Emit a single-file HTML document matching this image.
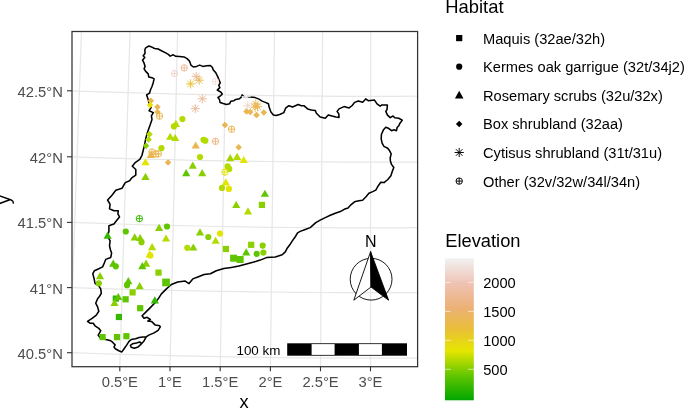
<!DOCTYPE html>
<html><head><meta charset="utf-8"><title>Habitat map</title>
<style>html,body{margin:0;padding:0;background:#fff}svg{display:block}text{font-family:"Liberation Sans",Arial,Helvetica,sans-serif}</style>
</head><body>
<svg width="685" height="408" viewBox="0 0 685 408">
<rect width="685" height="408" fill="#fff"/>
<defs><clipPath id="pc"><rect x="72.0" y="31.5" width="345.6" height="335.2"/></clipPath>
<linearGradient id="eg" x1="0" y1="1" x2="0" y2="0">
<stop offset="0%" stop-color="#00A600"/>
<stop offset="17.5%" stop-color="#63C600"/>
<stop offset="35%" stop-color="#E6E600"/>
<stop offset="50.5%" stop-color="#E9BD3A"/>
<stop offset="65%" stop-color="#ECB176"/>
<stop offset="82%" stop-color="#EFC2B3"/>
<stop offset="100%" stop-color="#F2F2F2"/>
</linearGradient></defs>
<g clip-path="url(#pc)" fill="none" stroke="#E7E7E7" stroke-width="1.25">
<path d="M69.6 366.7L81.5 31.5"/>
<path d="M119.8 366.7L130 31.5"/>
<path d="M170 366.7L177.6 31.5"/>
<path d="M220.2 366.7L226.2 31.5"/>
<path d="M270.4 366.7L274.5 31.5"/>
<path d="M320.5 366.7L322.6 31.5"/>
<path d="M370.5 366.7L370.7 31.5"/>
<path d="M70 90.7L95 91.6L120 92.4L145 93.1L170 93.8L195 94.4L220 94.9L245 95.3L270 95.7L295 95.9L320 96.1L345 96.3L370 96.3L395 96.3L420 96.1"/>
<path d="M70 156.7L95 157.6L120 158.4L145 159.1L170 159.7L195 160.3L220 160.8L245 161.2L270 161.5L295 161.8L320 161.9L345 162.1L370 162.1L395 162.1L420 162"/>
<path d="M70 222.3L95 223.2L120 224L145 224.8L170 225.4L195 226L220 226.5L245 226.9L270 227.3L295 227.5L320 227.7L345 227.9L370 227.9L395 227.9L420 227.7"/>
<path d="M70 287.5L95 288.3L120 289.1L145 289.7L170 290.3L195 290.9L220 291.3L245 291.7L270 292L295 292.3L320 292.5L345 292.6L370 292.6L395 292.6L420 292.5"/>
<path d="M70 352.6L95 353.5L120 354.3L145 355L170 355.7L195 356.2L220 356.7L245 357.1L270 357.5L295 357.8L320 357.9L345 358.1L370 358.1L395 358.1L420 358"/>
</g>
<path d="M145.7 47.8L148.8 46L151.6 46.9L154.5 48.5L158.2 49L161.4 50.7L165.2 52.6L168.3 54.4L170.2 56.1L173.3 54.8L175.8 56.3L179.6 56.6L184 56.9L187.1 58.6L189.6 61.3L190.9 65.1L193.4 67L196.5 66.4L199.7 65.1L202.8 66.4L206.6 65.7L210.4 65.5L212.4 67.5L213.3 70L215.7 72.6L217.6 76.4L219.1 80.1L220.3 82.9L218.8 85.2L219.8 87.6L217.3 90.1L220.7 92L222.3 94L220.1 96.2L218 97.5L219.5 99.6L220.1 102.6L223.2 103.6L226.4 104.5L229.5 103.8L230.8 101.3L233.9 100.7L235.8 99.4L239.5 98.8L241.4 96.9L242.1 94.9L243.9 96.6L250.2 97L255.2 97.6L259 99.1L262.1 101.1L265.9 102.6L268.4 103.8L269.3 107.6L270.9 112L273.4 114.9L276 115.4L279.7 114.5L283.8 112.6L285.6 108.2L288.8 105.7L292.6 107L298.2 104.5L301.3 105.7L303.9 105.7L307.6 108.9L311.4 109.9L315.2 110.4L316.4 113.2L320.2 117L325.2 118.3L328.3 114.9L332.1 116.1L335.9 117L339 117.4L338.8 113.9L337.1 111.4L339 108.9L344 106.6L349.1 107.9L352.2 105.5L354.6 102.4L358.3 101L362.7 102.2L365.7 98.9L368.2 100.7L374.5 100.1L377 103.9L380.1 106.1L382 104.9L387.4 105.1L387 109.5L385.8 111.4L387.5 115.1L390.2 117.6L393 116L395 117.8L398.7 118.2L402.3 120.1L400 123.2L398.8 125.7L397.1 127.6L396.5 130.7L394 129.8L391.5 130.7L388.3 128.2L385.8 127.3L383.3 130.1L381.4 134.5L381.2 138.9L382.1 143.2L383.9 146.4L387.7 148.3L389.6 150.8L391.2 153.9L390.2 157.7L390.4 161L391.5 164.4L393.8 167.5L392.1 171.9L390.9 175.7L387.8 179.5L384 182.6L380.8 182.3L378.3 185.7L375.8 190.1L372.7 191.6L368.9 193.3L365.8 197L362.6 200.2L358.9 200.8L354.5 201.8L350.9 204.8L348 208L344.2 209.3L340.3 211.6L335.3 213.2L330.3 215.3L325.3 217.6L320.2 220.1L315.8 222.6L310.2 227.6L305.2 229.5L300.2 231.4L297.6 232.9L295.1 237L292 241.4L290 244.6L287.2 248.2L285.3 251.9L282.2 254.8L275.3 256.9L266.5 257.6L260.2 260.1L253.9 262L246.4 263.9L238.9 266.1L231.3 267.4L223.8 268.6L216.3 270.7L210.4 273.8L204.1 274.5L197.8 277L192.8 278.9L189 283.6L185.2 281.1L177.7 282L171.4 284.5L166.4 288.9L161.4 293.9L158.2 298.8L155.3 302.5L150.3 307.6L145.3 312.6L142.1 315.7L144 318.2L147.1 317.3L150.3 319.5L147.8 321.1L151.5 321.4L155.3 325.1L159.7 325.8L160.3 326.8L158.1 330.3L154.1 332.9L148.8 335.1L146.2 336.9L142.7 336.9L139.1 337.4L135.6 338.7L131.2 339.6L129 341.3L126.8 344.9L124.1 348.8L121.9 351.9L119.3 351L115.3 348.8L114 347.1L115.1 344.9L112.6 342.2L110 340.4L105.7 339.6L100.7 338.3L98.2 335.2L100.7 330.8L98.8 328.3L95 325.8L93.2 323.2L90 323.2L87.5 321.4L92.5 318.2L96.3 315.1L98.8 311.3L97.6 306.9L95.7 303.2L97.6 298.8L99.4 296.5L101.3 293.3L100.7 288.9L98.8 285.8L95 283.3L94 278.2L92.8 273.9L94.4 270.7L98.8 268.8L102.6 266.9L104.5 262.6L105.7 259.4L110.7 257.5L111.6 253.1L110.5 250L109.5 245.8L110.1 240.8L107.6 236.4L108.9 231.4L108.9 225.7L113.9 223.9L116.4 220.7L119.5 216.9L117.9 213.8L118.3 210.7L113.9 210.7L109.5 208.8L110.1 204.4L107.6 200L112 195.2L115.8 190.2L122 188.3L125.2 182.6L129.6 180.8L132.1 177.6L135.8 175.1L135.8 169.5L132.3 166.3L135.2 162.6L139.8 159.4L142 155.3L143.3 150L144.5 145.1L145.7 138.8L147.6 131.9L150.1 125.1L152 119.5L151.4 115.8L153.3 112.6L149.1 110.7L151.1 107.6L149.1 103.8L148.2 99.4L146.6 95L149.5 93.2L150.5 89.8L152 86.5L153.2 82.7L154.1 78.9L152 77.7L148.8 77L148.2 73.9L145.7 71.4L144.1 68.9L145.1 66.4L144.1 63.2L142.6 60.1L144.8 57.6L143.2 55.7L145.1 53.2L144.8 50ZM146.2 336.9L144 340.9L141.3 344L138.2 346.9L134.3 348.2L131.2 347.2L130.4 345.3L132.5 343.8L136.5 342.9L139.6 342L141 343L141.3 344" fill="none" stroke="#000" stroke-width="1.55" stroke-linejoin="round" stroke-linecap="round"/>
<g>
<g stroke="#F0D6CE" stroke-width="0.95" fill="none"><circle cx="174.6" cy="73.6" r="3.2"/><path d="M171.4 73.6H177.8M174.6 70.4V76.8"/></g>
<g stroke="#EDB99A" stroke-width="0.95" fill="none"><circle cx="184.2" cy="67.9" r="3.2"/><path d="M181 67.9H187.4M184.2 64.7V71.1"/></g>
<path d="M191.6 76.4H200.8M196.2 71.8V81M192.9 73.1L199.5 79.7M192.9 79.7L199.5 73.1" stroke="#EDB99A" stroke-width="0.95" fill="none"/>
<path d="M194.5 80.2H203.7M199.1 75.6V84.8M195.8 76.9L202.4 83.5M195.8 83.5L202.4 76.9" stroke="#EAB650" stroke-width="0.95" fill="none"/>
<path d="M186 83.9H195.2M190.6 79.3V88.5M187.3 80.6L193.9 87.2M187.3 87.2L193.9 80.6" stroke="#E9C02E" stroke-width="0.95" fill="none"/>
<g stroke="#F2E2DD" stroke-width="0.95" fill="none"><circle cx="215.4" cy="81.4" r="3.2"/><path d="M212.2 81.4H218.6M215.4 78.2V84.6"/></g>
<path d="M190.7 108.6H199.9M195.3 104V113.2M192 105.3L198.6 111.9M192 111.9L198.6 105.3" stroke="#EDB99A" stroke-width="0.95" fill="none"/>
<path d="M197.7 98.8H206.9M202.3 94.2V103.4M199 95.5L205.6 102.1M199 102.1L205.6 95.5" stroke="#EDB99A" stroke-width="0.95" fill="none"/>
<path d="M241.6 96.4H250.8M246.2 91.8V101M242.9 93.1L249.5 99.7M242.9 99.7L249.5 93.1" stroke="#F6F4F3" stroke-width="0.95" fill="none"/>
<path d="M243.1 105.7H252.3M247.7 101.1V110.3M244.4 102.4L251 109M244.4 109L251 102.4" stroke="#F0D6CE" stroke-width="0.95" fill="none"/>
<path d="M251.2 104H260.4M255.8 99.4V108.6M252.5 100.7L259.1 107.3M252.5 107.3L259.1 100.7" stroke="#EAB650" stroke-width="0.95" fill="none"/>
<path d="M253 106.7H262.2M257.6 102.1V111.3M254.3 103.4L260.9 110M254.3 110L260.9 103.4" stroke="#EAB650" stroke-width="0.95" fill="none"/>
<path d="M250.6 107.2H259.8M255.2 102.6V111.8M251.9 103.9L258.5 110.5M251.9 110.5L258.5 103.9" stroke="#EAB650" stroke-width="0.95" fill="none"/>
<path d="M246.5 108.2L249.8 111.4L246.5 114.7L243.2 111.4Z" fill="#EAB650"/>
<path d="M250.2 108.8L253.4 112L250.2 115.2L246.9 112Z" fill="#EAB650"/>
<path d="M256.5 111.8L259.8 115.1L256.5 118.3L253.2 115.1Z" fill="#EAB650"/>
<path d="M263.8 109.3L267.1 112.6L263.8 115.8L260.6 112.6Z" fill="#EAB650"/>
<path d="M224.9 121.7L228.2 124.9L224.9 128.2L221.7 124.9Z" fill="#EAB650"/>
<g stroke="#EAB650" stroke-width="0.95" fill="none"><circle cx="231.6" cy="129.2" r="3.2"/><path d="M228.4 129.2H234.8M231.6 126V132.4"/></g>
<path d="M150.8 97.5L154.1 100.7L150.8 104L147.6 100.7Z" fill="#EAB650"/>
<path d="M150.1 101.8L153.3 105.1L150.1 108.3L146.8 105.1Z" fill="#E3E400"/>
<path d="M157.4 103.8L160.7 107L157.4 110.2L154.2 107Z" fill="#EAB650"/>
<path d="M157.4 108.8L160.7 112L157.4 115.2L154.2 112Z" fill="#EAB650"/>
<g stroke="#EAB650" stroke-width="0.95" fill="none"><circle cx="159.5" cy="116.1" r="3.2"/><path d="M156.3 116.1H162.7M159.5 112.9V119.3"/></g>
<circle cx="182.4" cy="119.1" r="3.1" fill="#B4DB00"/>
<path d="M175.9 119.7L180 126.9L171.8 126.9Z" fill="#B4DB00"/>
<circle cx="174" cy="126.4" r="3.1" fill="#B4DB00"/>
<path d="M149.5 130.9L152.8 134.2L149.5 137.4L146.2 134.2Z" fill="#B4DB00"/>
<path d="M148.6 136.2L151.8 139.4L148.6 142.7L145.3 139.4Z" fill="#B4DB00"/>
<path d="M146.1 142.4L149.3 145.7L146.1 148.9L142.8 145.7Z" fill="#8ACF00"/>
<circle cx="161.4" cy="148.2" r="3.1" fill="#B4DB00"/>
<g stroke="#EAB650" stroke-width="0.95" fill="none"><circle cx="152" cy="152" r="3.2"/><path d="M148.8 152H155.2M152 148.8V155.2"/></g>
<g stroke="#EAB650" stroke-width="0.95" fill="none"><circle cx="155.8" cy="153.9" r="3.2"/><path d="M152.6 153.9H159M155.8 150.7V157.1"/></g>
<g stroke="#EAB650" stroke-width="0.95" fill="none"><circle cx="158.3" cy="153.9" r="3.2"/><path d="M155.1 153.9H161.5M158.3 150.7V157.1"/></g>
<path d="M150.8 150.8L154.9 158L146.7 158Z" fill="#EAB650"/>
<path d="M145.5 158.2L149.6 165.3L141.4 165.3Z" fill="#E3E400"/>
<path d="M168.1 159.2L171.3 162.4L168.1 165.7L164.8 162.4Z" fill="#EAB650"/>
<path d="M170.2 132.7L174.3 139.8L166.1 139.8Z" fill="#B4DB00"/>
<path d="M175.2 133.9L179.3 141.1L171.1 141.1Z" fill="#B4DB00"/>
<path d="M195.7 141.4L199.8 148.6L191.6 148.6Z" fill="#EAB650"/>
<circle cx="203.5" cy="139.8" r="3.1" fill="#B4DB00"/>
<circle cx="205.3" cy="140.7" r="3.1" fill="#B4DB00"/>
<circle cx="200" cy="157" r="3.1" fill="#B4DB00"/>
<path d="M192.8 161.6L196.9 168.8L188.7 168.8Z" fill="#8ACF00"/>
<path d="M186.2 169.1L190.3 176.2L182.1 176.2Z" fill="#5FC500"/>
<path d="M202.2 169.1L206.3 176.2L198.1 176.2Z" fill="#8ACF00"/>
<path d="M145.5 172.8L149.6 179.9L141.4 179.9Z" fill="#8ACF00"/>
<g stroke="#ECB585" stroke-width="0.95" fill="none"><circle cx="215.5" cy="141.3" r="3.2"/><path d="M212.3 141.3H218.7M215.5 138.1V144.5"/></g>
<path d="M238.7 144.1L241.9 147.3L238.7 150.6L235.4 147.3Z" fill="#EAB650"/>
<path d="M230.2 154.1L234.3 161.2L226.1 161.2Z" fill="#A2D500"/>
<path d="M237.1 152.8L241.2 159.9L233 159.9Z" fill="#B4DB00"/>
<path d="M243.7 155.9L247.8 163.1L239.6 163.1Z" fill="#E3E400"/>
<circle cx="227.6" cy="166.4" r="3.1" fill="#B4DB00"/>
<circle cx="229.2" cy="168.9" r="3.1" fill="#B4DB00"/>
<g stroke="#E3E400" stroke-width="0.95" fill="none"><circle cx="224.9" cy="172.1" r="3.2"/><path d="M221.7 172.1H228.1M224.9 168.9V175.3"/></g>
<path d="M225.8 178.3L229.9 185.5L221.7 185.5Z" fill="#E3E400"/>
<circle cx="222" cy="187.9" r="3.1" fill="#B4DB00"/>
<circle cx="228.9" cy="188.9" r="3.1" fill="#E3E400"/>
<path d="M264.9 189.7L269 196.8L260.8 196.8Z" fill="#5FC500"/>
<rect x="258.8" y="201.8" width="6.2" height="6.2" fill="#8ACF00"/>
<path d="M236.2 200.9L240.3 208.1L232.1 208.1Z" fill="#8ACF00"/>
<path d="M248 207.3L252.1 214.5L243.9 214.5Z" fill="#B4DB00"/>
<g stroke="#35B800" stroke-width="0.95" fill="none"><circle cx="139.4" cy="218.6" r="3.2"/><path d="M136.2 218.6H142.6M139.4 215.4V221.8"/></g>
<path d="M107.6 231.6L111.7 238.8L103.5 238.8Z" fill="#35B800"/>
<circle cx="125.8" cy="231.5" r="3.1" fill="#5FC500"/>
<path d="M134.7 233.3L138.8 240.5L130.6 240.5Z" fill="#8ACF00"/>
<path d="M140.1 233.9L144.2 241.1L136 241.1Z" fill="#8ACF00"/>
<circle cx="141.5" cy="242.2" r="3.1" fill="#8ACF00"/>
<path d="M159.1 223.8L163.2 230.9L155 230.9Z" fill="#8ACF00"/>
<circle cx="167" cy="226.5" r="3.1" fill="#5FC500"/>
<path d="M166 234.4L170.1 241.6L161.9 241.6Z" fill="#B4DB00"/>
<path d="M152.1 243.1L156.2 250.2L148 250.2Z" fill="#B4DB00"/>
<path d="M149.6 250.3L153.7 257.6L145.5 257.6Z" fill="#E3E400"/>
<circle cx="150.3" cy="255.4" r="3.1" fill="#E3E400"/>
<path d="M200 228.3L204.1 235.5L195.9 235.5Z" fill="#8ACF00"/>
<circle cx="208.3" cy="237" r="3.1" fill="#8ACF00"/>
<circle cx="220" cy="233.6" r="3.1" fill="#E3E400"/>
<path d="M215.6 236.7L219.7 243.8L211.5 243.8Z" fill="#B4DB00"/>
<circle cx="187.3" cy="247.8" r="3.1" fill="#B4DB00"/>
<path d="M193.3 243.4L197.4 250.6L189.2 250.6Z" fill="#8ACF00"/>
<rect x="222.8" y="245.9" width="6.2" height="6.2" fill="#8ACF00"/>
<rect x="230.1" y="254.7" width="7" height="7" fill="#5FC500"/>
<rect x="236.6" y="256" width="7" height="7" fill="#5FC500"/>
<rect x="248.1" y="241.7" width="6.2" height="6.2" fill="#8ACF00"/>
<path d="M246.2 248.3L250.3 255.5L242.1 255.5Z" fill="#5FC500"/>
<circle cx="262.7" cy="245.6" r="3.1" fill="#8ACF00"/>
<circle cx="256.7" cy="253.8" r="3.1" fill="#5FC500"/>
<circle cx="263.4" cy="252.6" r="3.1" fill="#8ACF00"/>
<path d="M113.2 259.6L117.3 266.8L109.1 266.8Z" fill="#5FC500"/>
<circle cx="115.8" cy="266.3" r="3.1" fill="#5FC500"/>
<path d="M100 272.1L104.1 279.3L95.9 279.3Z" fill="#8ACF00"/>
<circle cx="98.8" cy="283.3" r="3.1" fill="#8ACF00"/>
<path d="M128.3 277.1L132.4 284.3L124.2 284.3Z" fill="#5FC500"/>
<circle cx="127" cy="285.2" r="3.1" fill="#5FC500"/>
<path d="M139.7 282.1L143.8 289.3L135.6 289.3Z" fill="#8ACF00"/>
<rect x="129.5" y="289.3" width="6.2" height="6.2" fill="#8ACF00"/>
<rect x="122.5" y="296.2" width="6.2" height="6.2" fill="#5FC500"/>
<rect x="112.7" y="295.5" width="6.2" height="6.2" fill="#35B800"/>
<path d="M118.3 292.9L122.4 300.1L114.2 300.1Z" fill="#5FC500"/>
<path d="M146.1 259.6L150.2 266.8L142 266.8Z" fill="#8ACF00"/>
<path d="M142.3 262.1L146.4 269.2L138.2 269.2Z" fill="#5FC500"/>
<rect x="155.4" y="269.5" width="6.2" height="6.2" fill="#8ACF00"/>
<rect x="162.2" y="278.6" width="7.7" height="7.7" fill="#5FC500"/>
<path d="M154.8 296.2L158.9 303.4L150.7 303.4Z" fill="#35B800"/>
<rect x="137.1" y="305.1" width="6.2" height="6.2" fill="#5FC500"/>
<rect x="115.8" y="313.9" width="6.2" height="6.2" fill="#35B800"/>
<rect x="99.5" y="334" width="6.2" height="6.2" fill="#5FC500"/>
<rect x="113.9" y="334" width="6.2" height="6.2" fill="#5FC500"/>
<rect x="123.3" y="333.1" width="6.2" height="6.2" fill="#5FC500"/>
<path d="M114.5 298.9L118.6 306.1L110.4 306.1Z" fill="#8ACF00"/>
</g>
<text x="370.8" y="246.5" font-size="16" text-anchor="middle" fill="#000">N</text>
<circle cx="371.1" cy="279.2" r="20.9" fill="none" stroke="#000" stroke-width="0.9"/>
<path d="M370.6 251.6L353.8 300.2L371 287Z" fill="#fff" stroke="#000" stroke-width="0.9" stroke-linejoin="miter"/>
<path d="M370.6 251.6L388.6 300.2L371 287Z" fill="#000" stroke="#000" stroke-width="0.9" stroke-linejoin="miter"/>
<text x="280.4" y="354.9" font-size="13.4" text-anchor="end" fill="#000">100 km</text>
<rect x="287.2" y="343.3" width="119.8" height="12.4" fill="#000"/>
<rect x="311.6" y="344.1" width="23.0" height="10.8" fill="#fff"/>
<rect x="358.9" y="344.1" width="23.0" height="10.8" fill="#fff"/>
<rect x="72.0" y="31.5" width="345.6" height="335.2" fill="none" stroke="#333" stroke-width="1.25"/>
<g stroke="#333" stroke-width="1.1">
<path d="M67 90.8H72.0"/>
<path d="M67 156.8H72.0"/>
<path d="M67 222.4H72.0"/>
<path d="M67 287.6H72.0"/>
<path d="M67 352.7H72.0"/>
<path d="M119.8 366.7V371.3"/>
<path d="M170 366.7V371.3"/>
<path d="M220.2 366.7V371.3"/>
<path d="M270.4 366.7V371.3"/>
<path d="M320.5 366.7V371.3"/>
<path d="M370.5 366.7V371.3"/>
</g>
<g font-size="14.75" fill="#4D4D4D">
<text x="62.8" y="96.7" text-anchor="end">42.5°N</text>
<text x="62.8" y="162.7" text-anchor="end">42°N</text>
<text x="62.8" y="228.3" text-anchor="end">41.5°N</text>
<text x="62.8" y="293.5" text-anchor="end">41°N</text>
<text x="62.8" y="358.6" text-anchor="end">40.5°N</text>
<text x="119.8" y="386.6" text-anchor="middle">0.5°E</text>
<text x="170" y="386.6" text-anchor="middle">1°E</text>
<text x="220.2" y="386.6" text-anchor="middle">1.5°E</text>
<text x="270.4" y="386.6" text-anchor="middle">2°E</text>
<text x="320.5" y="386.6" text-anchor="middle">2.5°E</text>
<text x="370.5" y="386.6" text-anchor="middle">3°E</text>
</g>
<text x="244.1" y="407.6" font-size="18.3" text-anchor="middle" fill="#000">x</text>
<text transform="translate(9.6,199.6) rotate(-90)" font-size="18.3" text-anchor="middle" fill="#000">y</text>
<text x="445.3" y="13.4" font-size="18.4" fill="#000">Habitat</text>
<g font-size="14.65" fill="#000">
<rect x="456.1" y="35" width="6.2" height="6.2" fill="#000"/>
<text x="483" y="43.9">Maquis (32ae/32h)</text>
<circle cx="459.2" cy="66.7" r="3.1" fill="#000"/>
<text x="483" y="72.4">Kermes oak garrigue (32t/34j2)</text>
<path d="M459.2 90.8L463.5 98.4L454.9 98.4Z" fill="#000"/>
<text x="483" y="100.9">Rosemary scrubs (32u/32x)</text>
<path d="M459.2 120.7L462.4 123.9L459.2 127.2L455.9 123.9Z" fill="#000"/>
<text x="483" y="129.4">Box shrubland (32aa)</text>
<path d="M454.6 152.5H463.8M459.2 147.9V157.1M455.9 149.2L462.5 155.8M455.9 155.8L462.5 149.2" stroke="#000" stroke-width="0.95" fill="none"/>
<text x="483" y="158">Cytisus shrubland (31t/31u)</text>
<g stroke="#000" stroke-width="0.95" fill="none"><circle cx="459.2" cy="181.1" r="3.2"/><path d="M456 181.1H462.4M459.2 177.9V184.3"/></g>
<text x="483" y="186.5">Other (32v/32w/34l/34n)</text>
</g>
<text x="445.3" y="247" font-size="18.3" fill="#000">Elevation</text>
<rect x="445" y="258.3" width="28.8" height="142" fill="url(#eg)"/>
<g stroke="#fff" stroke-width="0.6">
<path d="M445 282.4h5.8M473.8 282.4h-5.8"/>
<path d="M445 311.4h5.8M473.8 311.4h-5.8"/>
<path d="M445 340.3h5.8M473.8 340.3h-5.8"/>
<path d="M445 369.3h5.8M473.8 369.3h-5.8"/>
</g>
<g font-size="14.65" fill="#000">
<text x="483.2" y="287.6">2000</text>
<text x="483.2" y="316.6">1500</text>
<text x="483.2" y="345.5">1000</text>
<text x="483.2" y="374.5">500</text>
</g>
</svg></body></html>
